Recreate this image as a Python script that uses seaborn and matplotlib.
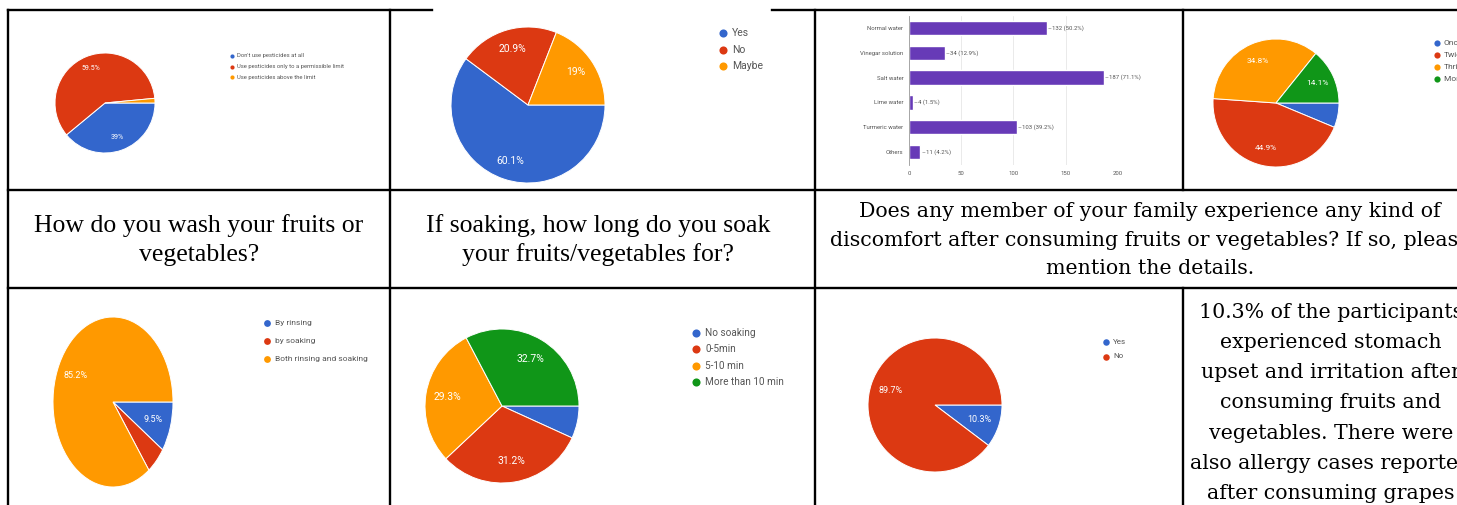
import matplotlib
matplotlib.use("Agg")
import matplotlib.pyplot as plt
import seaborn as sns

W, H = 1457, 505
sns.set_theme(style="white")
plt.rcParams["font.family"] = ["Roboto", "DejaVu Sans"]

BLUE, RED, ORANGE, GREEN = "#3366cc", "#dc3912", "#ff9900", "#109618"
PURPLE = "#673ab7"

# ---------------- data ----------------
pest_labels = ["Don't use pesticides at all", "Use pesticides only to a permissible limit",
               "Use pesticides above the limit"]
pest_values = [39.0, 59.5, 1.5]

aware_labels = ["Yes", "No", "Maybe"]
aware_values = [60.1, 20.9, 19.0]

method_labels = ["Normal water", "Vinegar solution", "Salt water", "Lime water",
                 "Turmeric water", "Others"]
method_counts = [132, 34, 187, 4, 103, 11]
method_pcts = [50.2, 12.9, 71.1, 1.5, 39.2, 4.2]
bar_ticks = [0, 50, 100, 150, 200]

freq_labels = ["Once", "Twice", "Thrice", "More than thrice"]
freq_values = [6.2, 44.9, 34.8, 14.1]

wash_labels = ["By rinsing", "by soaking", "Both rinsing and soaking"]
wash_values = [9.5, 5.3, 85.2]

soak_labels = ["No soaking", "0-5min", "5-10 min", "More than 10 min"]
soak_values = [6.8, 31.2, 29.3, 32.7]

disc_labels = ["Yes", "No"]
disc_values = [10.3, 89.7]

q_wash = "How do you wash your fruits or\nvegetables?"
q_soak = "If soaking, how long do you soak\nyour fruits/vegetables for?"
q_disc = ("Does any member of your family experience any kind of\n"
          "discomfort after consuming fruits or vegetables? If so, please\n"
          "mention the details.")
answer = ("10.3% of the participants\nexperienced stomach\nupset and irritation after\n"
          "consuming fruits and\nvegetables. There were\nalso allergy cases reported\n"
          "after consuming grapes")

# ---------------- figure ----------------
fig = plt.figure(figsize=(W / 100, H / 100), dpi=100)
fig.patch.set_facecolor("white")


def px_axes(x0, y0, w, h):
    return fig.add_axes([x0 / W, 1 - (y0 + h) / H, w / W, h / H])


def fmt(p):
    s = f"{p:.1f}"
    if s.endswith(".0"):
        s = s[:-2]
    return s + "%"


def pie(cx, cy, rx, ry, values, colors, fs, pdist=0.72, minpct=8):
    m = 1.03
    ax = px_axes(cx - rx * m, cy - ry * m, 2 * rx * m, 2 * ry * m)
    ax.pie(values, colors=colors, startangle=0, counterclock=False,
           autopct=lambda p: fmt(p) if p >= minpct else "", pctdistance=pdist,
           wedgeprops=dict(edgecolor="white", linewidth=0.7),
           textprops=dict(color="white", fontsize=fs))
    ax.set_xlim(-m, m)
    ax.set_ylim(-m, m)
    ax.set_aspect("auto")
    ax.axis("off")
    return ax


pie(105, 103, 50, 50, pest_values, [BLUE, RED, ORANGE], 5.0, 0.74)
pie(528, 105, 77, 78, aware_values, [BLUE, RED, ORANGE], 7.5, 0.75)
pie(1276, 103, 63, 64, freq_values, [BLUE, RED, ORANGE, GREEN], 6.0, 0.72)
pie(113, 402, 60, 85, wash_values, [BLUE, RED, ORANGE], 6.5, 0.70)
pie(502, 406, 77, 77, soak_values, [BLUE, RED, ORANGE, GREEN], 7.5, 0.72)
pie(935, 405, 67, 67, disc_values, [BLUE, RED], 6.5, 0.70)

# ---------------- bar chart ----------------
bax = px_axes(909, 15.5, 209, 149)
sns.barplot(x=method_counts, y=method_labels, orient="h", color=PURPLE,
            saturation=1, width=0.58, ax=bax)
bax.set_xlim(0, 200)
bax.set_xticks(bar_ticks)
bax.set_xlabel("")
bax.set_ylabel("")
bax.grid(axis="x", color="#e6e6e6", lw=0.6)
bax.set_axisbelow(True)
for s in ["top", "right", "bottom"]:
    bax.spines[s].set_visible(False)
bax.spines["left"].set_color("#9a9a9a")
bax.spines["left"].set_linewidth(0.6)
bax.tick_params(axis="both", length=0, labelsize=4.3, labelcolor="#555555")
bax.tick_params(axis="y", pad=4)
bax.tick_params(axis="x", pad=5)
for i, (c, p) in enumerate(zip(method_counts, method_pcts)):
    bax.text(c + 1, i, f"\u2013{c} ({p}%)", fontsize=4.3, color="#555555",
             va="center", ha="left")

# ---------------- overlay: table & legends ----------------
ov = fig.add_axes([0, 0, 1, 1])
ov.set_xlim(0, W)
ov.set_ylim(H, 0)
ov.axis("off")

LW = 1.7
segs_h = [(8, 432, 10), (772, W, 10), (8, W, 190), (8, W, 288)]
for x1, x2, y in segs_h:
    ov.plot([x1, x2], [y, y], color="black", lw=LW, solid_capstyle="projecting")
segs_v = [(8, 10, H), (390, 10, H), (815, 10, H), (1183, 10, 190), (1183, 288, H)]
for x, y1, y2 in segs_v:
    ov.plot([x, x], [y1, y2], color="black", lw=LW, solid_capstyle="projecting")


def legend(x, y0, dy, labels, colors, fs, s, gap):
    for i, (l, c) in enumerate(zip(labels, colors)):
        y = y0 + i * dy
        ov.scatter([x], [y], s=s, color=c, zorder=5, linewidths=0)
        ov.text(x + gap, y, l, fontsize=fs, color="#555555", va="center", ha="left")


legend(232, 56, 10.5, pest_labels, [BLUE, RED, ORANGE], 4.2, 9, 5)
legend(723, 33, 16.7, aware_labels, [BLUE, RED, ORANGE], 7.5, 34, 9)
legend(1437, 43, 11.9, freq_labels, [BLUE, RED, ORANGE, GREEN], 6, 20, 7)
legend(267, 323, 18, wash_labels, [BLUE, RED, ORANGE], 6, 24, 8)
legend(696, 333, 16.4, soak_labels, [BLUE, RED, ORANGE, GREEN], 7.2, 34, 9)
legend(1106, 342, 14.5, disc_labels, [BLUE, RED], 5.8, 22, 7)

ov.text(199, 240, q_wash, fontsize=18.5, family=["Liberation Serif"], ha="center",
        va="center", color="black", linespacing=1.38)
ov.text(598, 240, q_soak, fontsize=18.5, family=["Liberation Serif"], ha="center",
        va="center", color="black", linespacing=1.38)
ov.text(1150, 240, q_disc, fontsize=14.8, family=["DejaVu Serif"], ha="center",
        va="center", color="black", linespacing=1.66)
ov.text(1331, 403, answer, fontsize=14.8, family=["DejaVu Serif"], ha="center",
        va="center", color="black", linespacing=1.74)

fig.savefig("out.png", dpi=100, facecolor="white")
